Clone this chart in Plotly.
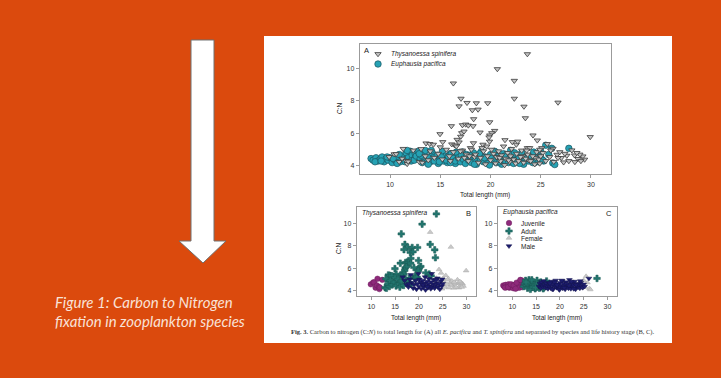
import plotly.graph_objects as go

W, H = 721, 378

# ---------------- data ----------------
# Thysanoessa spinifera by life stage: (total length mm, C:N)
ts_juvenile = [(9.9, 4.55), (10.4, 4.72), (10.6, 4.73), (10.9, 4.25), (11.2, 4.45), (11.3, 5.05),
               (11.6, 4.30), (11.7, 4.12), (11.8, 4.27), (12.3, 4.95)]
ts_adult = [(23.67, 10.88), (20.68, 9.96), (16.30, 9.08), (22.37, 8.14), (17.06, 8.14), (17.66, 7.88),
            (16.87, 7.67), (18.59, 7.86), (19.72, 7.86), (18.19, 7.43), (18.76, 7.47), (23.33, 7.65),
            (23.47, 6.94), (18.32, 6.88), (19.92, 6.69), (16.10, 6.45), (17.20, 6.51), (17.53, 6.55),
            (17.79, 6.49), (18.26, 6.45), (20.41, 6.16), (20.12, 6.02), (19.92, 5.88), (17.13, 6.02),
            (17.36, 6.12), (17.03, 5.80), (16.67, 5.61), (16.87, 5.45), (18.96, 6.06), (19.85, 5.76),
            (14.97, 5.96), (15.24, 5.47), (16.14, 5.33), (16.43, 5.27), (13.58, 5.39), (13.95, 5.35),
            (14.31, 5.31), (13.08, 5.04), (19.25, 5.31), (19.15, 5.10), (19.62, 5.20), (21.44, 5.59),
            (22.17, 5.47), (22.57, 5.31), (12.9, 4.25), (13.2, 4.20), (13.5, 4.60), (13.8, 4.35),
            (14.0, 4.90), (14.4, 4.50), (14.8, 4.75), (15.0, 5.15), (15.2, 4.40), (15.6, 5.00),
            (15.9, 4.60), (16.0, 4.30), (16.3, 4.85), (16.8, 4.45), (17.2, 4.95), (17.6, 4.70),
            (18.0, 5.10), (18.4, 4.55)]
ts_female = [(22.37, 9.24), (26.72, 7.90), (29.93, 5.78), (24.23, 5.88), (24.66, 5.57), (25.65, 5.35),
             (26.22, 5.06), (23.67, 5.10), (26.62, 4.69), (27.05, 4.49), (27.28, 4.22), (28.10, 4.96),
             (28.37, 4.65), (28.70, 4.43), (29.20, 4.59), (29.37, 4.39), (28.40, 4.24), (27.60, 4.63),
             (26.72, 4.49), (25.20, 4.80), (25.50, 4.30), (25.90, 4.55), (26.30, 4.25), (26.90, 4.85),
             (27.80, 4.30), (28.90, 4.70), (25.10, 5.10), (24.50, 4.50), (23.80, 4.35), (26.00, 4.95),
             (27.40, 4.75), (28.60, 4.80), (29.00, 4.30), (24.90, 4.15), (23.20, 4.60)]
ts_male = [(16.6, 5.20), (17.0, 4.90), (17.4, 4.50), (17.8, 4.30), (18.1, 5.00), (18.5, 4.70),
           (18.8, 4.20), (19.0, 4.50), (19.3, 4.90), (19.5, 4.10), (19.7, 4.60), (20.0, 4.35),
           (20.1, 5.00), (20.3, 4.75), (20.5, 4.15), (20.6, 4.55), (20.8, 4.90), (21.0, 4.30),
           (21.1, 4.65), (21.3, 5.20), (21.4, 4.05), (21.5, 4.45), (21.7, 4.80), (21.9, 4.25),
           (22.0, 4.60), (22.1, 5.05), (22.3, 4.40), (22.5, 4.15), (22.6, 4.75), (22.8, 4.30),
           (23.0, 4.55), (23.1, 4.95), (23.3, 4.20), (23.5, 4.45), (23.7, 4.70), (23.9, 5.10),
           (24.0, 4.30), (24.2, 4.60), (24.4, 4.10), (24.6, 4.85), (24.8, 4.40), (25.0, 4.60),
           (18.3, 5.40), (19.9, 5.50), (22.7, 5.50), (17.9, 4.60), (20.9, 4.50), (21.8, 4.35),
           (23.6, 4.95), (24.9, 5.00)]

# Euphausia pacifica by life stage
ep_juvenile = [(8.1, 4.45), (8.3, 4.35), (8.6, 4.50), (8.8, 4.30), (9.0, 4.40), (9.2, 4.55), (9.4, 4.25),
               (9.6, 4.45), (9.8, 4.35), (10.0, 4.50), (10.2, 4.20), (10.4, 4.40), (10.6, 4.30),
               (10.8, 4.55), (11.0, 4.25), (11.2, 4.60), (11.4, 4.35), (11.6, 4.80), (11.8, 4.50),
               (12.0, 4.90), (12.2, 4.65), (12.4, 4.40), (8.5, 4.25), (9.1, 4.30), (9.7, 4.55),
               (10.3, 4.45), (10.9, 4.70), (11.5, 4.25), (12.1, 4.30), (12.5, 4.75), (11.7, 4.95),
               (10.7, 4.15)]
ep_adult = [(12.4, 4.35), (12.6, 4.60), (12.8, 4.90), (13.0, 4.45), (13.2, 4.20), (13.4, 4.70),
            (13.5, 4.95), (13.7, 4.40), (13.9, 4.55), (14.0, 4.25), (14.2, 4.80), (14.3, 4.50),
            (14.5, 4.35), (14.7, 4.65), (14.8, 4.15), (15.0, 4.45), (15.2, 4.90), (15.3, 4.30),
            (15.5, 4.60), (15.7, 4.20), (15.9, 4.50), (16.0, 4.75), (16.2, 4.35), (16.4, 4.55),
            (16.6, 4.25), (16.8, 4.60), (17.0, 4.40), (17.2, 4.85), (13.1, 4.65), (13.8, 4.10),
            (14.4, 4.30), (15.1, 4.55), (15.8, 4.35), (16.5, 4.15), (17.4, 4.50), (12.9, 4.75),
            (14.1, 4.95), (14.9, 4.25), (27.8, 5.08)]
ep_female = [(23.5, 4.30), (24.0, 4.60), (24.4, 4.20), (24.8, 4.50), (25.0, 4.90), (25.3, 4.30),
             (25.5, 5.27), (25.8, 4.70), (26.2, 4.18), (26.4, 4.08)]
ep_male = [(15.6, 4.35), (15.8, 4.60), (16.0, 4.20), (16.1, 4.75), (16.3, 4.45), (16.5, 4.30),
           (16.6, 4.85), (16.8, 4.50), (17.0, 4.25), (17.1, 4.65), (17.3, 4.40), (17.5, 4.15),
           (17.6, 4.70), (17.8, 4.35), (18.0, 4.55), (18.1, 4.20), (18.3, 4.80), (18.5, 4.45),
           (18.6, 4.10), (18.8, 4.60), (19.0, 4.35), (19.1, 4.90), (19.3, 4.25), (19.5, 4.55),
           (19.6, 4.40), (19.8, 4.15), (20.0, 4.70), (20.1, 4.45), (20.3, 4.30), (20.5, 4.85),
           (20.6, 4.20), (20.8, 4.60), (21.0, 4.40), (21.1, 4.10), (21.3, 4.75), (21.5, 4.30),
           (21.6, 4.55), (21.8, 4.20), (22.0, 4.95), (22.1, 4.40), (22.3, 4.15), (22.5, 4.65),
           (22.6, 4.35), (22.8, 4.50), (23.0, 4.25), (23.1, 4.80), (23.3, 4.10), (23.5, 4.45),
           (23.6, 4.60), (23.8, 4.30), (24.0, 4.55), (24.2, 4.20), (24.4, 4.70), (24.6, 4.40),
           (24.8, 4.25), (25.0, 4.55), (25.2, 4.35), (19.9, 4.05), (20.4, 4.90), (20.9, 4.25),
           (21.4, 4.60), (21.9, 4.45), (22.4, 4.80), (22.9, 4.15), (23.4, 4.50), (17.9, 4.65),
           (18.4, 4.10), (18.9, 4.75), (19.4, 4.50), (24.3, 4.85), (26.1, 5.08)]

stage_names = ["Juvenile", "Adult", "Female", "Male"]
species_names = ["Thysanoessa spinifera", "Euphausia pacifica"]
x_ticks = [10, 15, 20, 25, 30]
y_ticks = [4, 6, 8, 10]

# ---------------- helpers ----------------
def X(p):
    return p / W


def Y(p):
    return 1 - p / H


def xs(pts):
    return [p[0] for p in pts]


def ys(pts):
    return [p[1] for p in pts]


ts_all = ts_juvenile + ts_adult + ts_female + ts_male
ep_all = ep_juvenile + ep_adult + ep_female + ep_male

TEAL_A = "#26a2b4"
GRAY_A = "#c4c4c4"
C_JUV = "#8e2a7b"
C_ADU = "#23766f"
C_FEM = "#c9c9c9"
C_MAL = "#1c1c6e"

stage_style = {
    "Juvenile": dict(symbol="circle", color=C_JUV, line=dict(color="#6e1f5f", width=0.5), size=5.5),
    "Adult": dict(symbol="cross", color=C_ADU, line=dict(color="#1a5a55", width=0.5), size=5.5),
    "Female": dict(symbol="triangle-up", color=C_FEM, line=dict(color="#a9a9a9", width=0.5), size=5),
    "Male": dict(symbol="triangle-down", color=C_MAL, line=dict(color="#14144f", width=0.5), size=5),
}
TS_MARK = dict(symbol="triangle-down", size=5.5, color=GRAY_A, line=dict(color="#3a3a3a", width=0.8))
EP_MARK = dict(symbol="circle", size=6.5, color=TEAL_A, line=dict(color="#1b5560", width=0.7))

fig = go.Figure()

# Panel A
fig.add_trace(go.Scatter(x=xs(ep_all), y=ys(ep_all), mode="markers", name=species_names[1],
                         marker=EP_MARK, xaxis="x", yaxis="y", showlegend=False))
fig.add_trace(go.Scatter(x=xs(ts_all), y=ys(ts_all), mode="markers", name=species_names[0],
                         marker=TS_MARK, xaxis="x", yaxis="y", showlegend=False))

# Panel B and C
for stage, pts in zip(stage_names, [ts_juvenile, ts_adult, ts_female, ts_male]):
    fig.add_trace(go.Scatter(x=xs(pts), y=ys(pts), mode="markers", name=stage,
                             marker=stage_style[stage], xaxis="x2", yaxis="y2", showlegend=False))
for stage, pts in zip(stage_names, [ep_juvenile, ep_adult, ep_female, ep_male]):
    fig.add_trace(go.Scatter(x=xs(pts), y=ys(pts), mode="markers", name=stage,
                             marker=stage_style[stage], xaxis="x3", yaxis="y3", showlegend=False))

# legend keys on a pixel overlay axis
fig.add_trace(go.Scatter(x=[378], y=[54], mode="markers", xaxis="x4", yaxis="y4", showlegend=False,
                         marker=TS_MARK, cliponaxis=False))
fig.add_trace(go.Scatter(x=[378], y=[64], mode="markers", xaxis="x4", yaxis="y4", showlegend=False,
                         marker=EP_MARK, cliponaxis=False))
for stage, yy in zip(stage_names, [223, 231, 238, 246]):
    fig.add_trace(go.Scatter(x=[509], y=[yy], mode="markers", xaxis="x4", yaxis="y4",
                             showlegend=False, marker=stage_style[stage], cliponaxis=False))

axis_common = dict(showline=True, mirror=True, linecolor="#9b9b9b", linewidth=1.2, ticks="outside",
                   ticklen=3, tickcolor="#9b9b9b", tickwidth=1, showgrid=False, zeroline=False,
                   tickfont=dict(family="Liberation Sans", size=7, color="#333333"))

fig.update_layout(
    width=W, height=H, margin=dict(l=0, r=0, t=0, b=0),
    paper_bgcolor="#db4a0d", plot_bgcolor="rgba(0,0,0,0)",
    font=dict(family="Liberation Sans", color="#222222"),
    hovermode=False,
    xaxis=dict(domain=[X(360), X(611)], range=[7, 32], tickvals=x_ticks, anchor="y", **axis_common),
    yaxis=dict(domain=[Y(174), Y(44)], range=[3.5, 11.5], tickvals=y_ticks, anchor="x", **axis_common),
    xaxis2=dict(domain=[X(357), X(476)], range=[7, 32], tickvals=x_ticks, anchor="y2", **axis_common),
    yaxis2=dict(domain=[Y(296), Y(207)], range=[3.5, 11.5], tickvals=y_ticks, anchor="x2", **axis_common),
    xaxis3=dict(domain=[X(498), X(617)], range=[7, 32], tickvals=x_ticks, anchor="y3", **axis_common),
    yaxis3=dict(domain=[Y(296), Y(207)], range=[3.5, 11.5], tickvals=y_ticks, anchor="x3", **axis_common),
    xaxis4=dict(domain=[0, 1], range=[0, W], visible=False, anchor="y4"),
    yaxis4=dict(domain=[0, 1], range=[H, 0], visible=False, anchor="x4"),
)

# white figure panel and arrow
fig.add_shape(type="rect", xref="paper", yref="paper", x0=X(264), x1=X(672), y0=Y(343), y1=Y(36),
              fillcolor="white", line=dict(width=0), layer="below")
arrow = [(191, 40), (214, 40), (214, 241), (226, 241), (203, 263), (179, 241), (191, 241)]
path = "M " + " L ".join(f"{X(a):.5f},{Y(b):.5f}" for a, b in arrow) + " Z"
fig.add_shape(type="path", xref="paper", yref="paper", path=path, fillcolor="white",
              line=dict(color="#707070", width=1), layer="above")


def ann(text, x, y, size, xanchor="center", color="#222222", family="Liberation Sans", angle=0):
    fig.add_annotation(text=text, x=X(x), y=Y(y), xref="paper", yref="paper", showarrow=False,
                       xanchor=xanchor, yanchor="middle", textangle=angle,
                       font=dict(family=family, size=size, color=color))


# Panel texts
ann("A", 366, 51, 7.5)
ann("<i>Thysanoessa spinifera</i>", 389, 54, 6.5, "left")
ann("<i>Euphausia pacifica</i>", 389, 64, 6.5, "left")
ann("Total length (mm)", 485, 195, 6.5)
ann("C:N", 339, 108, 6.5, angle=-90)

ann("<i>Thysanoessa spinifera</i>", 360, 213, 6.5, "left")
ann("B", 468, 213, 7.5)
ann("Total length (mm)", 416, 318, 6.5)
ann("C:N", 338, 248, 6.5, angle=-90)

ann("<i>Euphausia pacifica</i>", 501, 212, 6.5, "left")
ann("C", 609, 213, 7.5)
for stage, yy in zip(stage_names, [223, 231, 238, 246]):
    ann(stage, 519, yy, 6.5, "left")
ann("Total length (mm)", 557, 318, 6.5)

ann("<b>Fig. 3.</b> Carbon to nitrogen (C:<i>N</i>) to total length for (A) all <i>E. pacifica</i> and "
    "<i>T. spinifera</i> and separated by species and life history stage (B, C).",
    289, 332, 6.5, "left", "#333333", "Liberation Serif")

# Slide caption
ann("<i>Figure 1: Carbon to Nitrogen</i>", 53, 302, 15, "left", "#f9e2d8", "Lato")
ann("<i>fixation in zooplankton species</i>", 53, 321, 15, "left", "#f9e2d8", "Lato")

fig.write_html("out.html", config={"displayModeBar": False, "staticPlot": True},
               post_script="document.body.style.margin='0';")
